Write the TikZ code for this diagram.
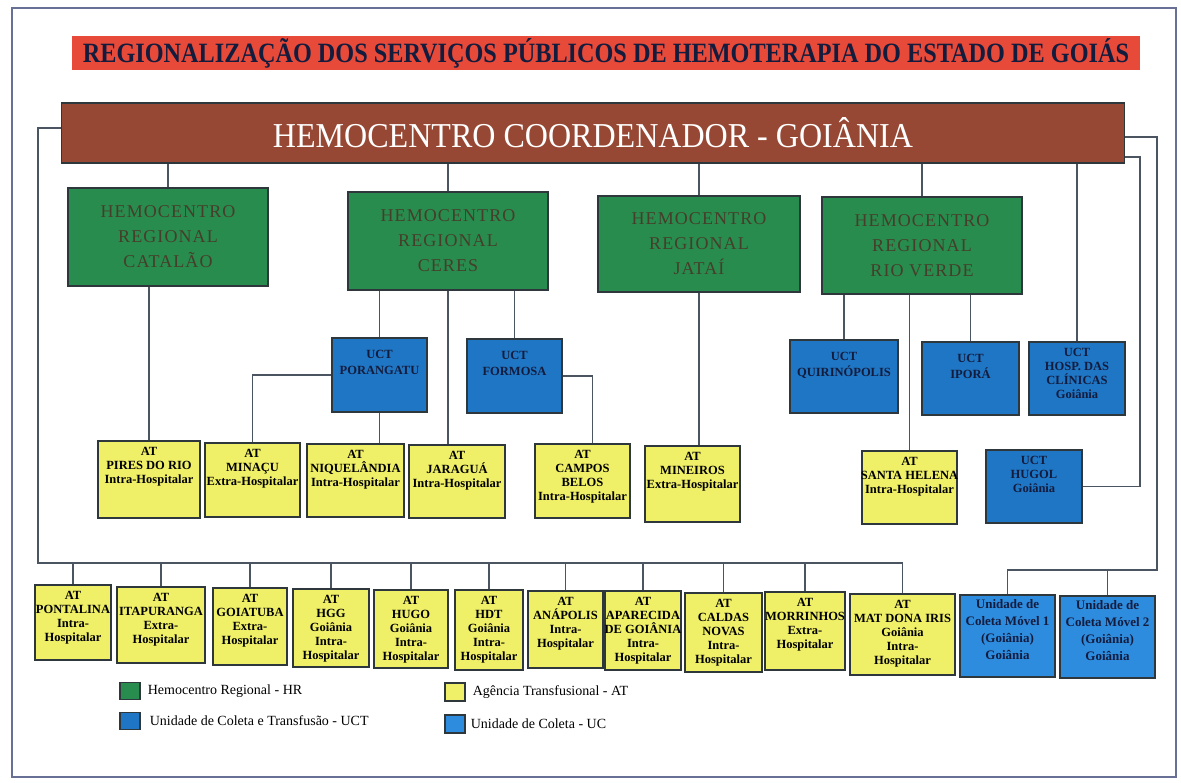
\documentclass[tikz,border=0pt]{standalone}
\usepackage{graphicx}
\usepackage{fontspec}
\setmainfont{Liberation Serif}
\newfontfamily\hrfont{Liberation Serif}[LetterSpace=6]
\usetikzlibrary{positioning}

\definecolor{titlered}{RGB}{232,74,58}
\definecolor{coordbrown}{RGB}{150,72,52}
\definecolor{hrgreen}{RGB}{40,140,78}
\definecolor{hrtext}{RGB}{70,62,42}
\definecolor{uctblue}{RGB}{30,118,196}
\definecolor{ucblue}{RGB}{46,140,222}
\definecolor{atyellow}{RGB}{240,240,104}
\definecolor{boxline}{RGB}{45,55,60}
\definecolor{linecol}{RGB}{75,85,98}
\definecolor{framecol}{RGB}{105,112,150}
\definecolor{navytext}{RGB}{20,28,62}

\tikzset{
  cell/.style={draw=boxline, line width=1.3pt, inner sep=0pt},
  boxsize/.style 2 args={minimum width=#1pt, minimum height=#2pt},
  hrbox/.style={cell, fill=hrgreen, align=center, text=hrtext,
    font={\hrfont\fontsize{18}{25}\selectfont}},
  attext/.style={anchor=north, yshift=-7pt, align=center, inner sep=0pt,
    font={\bfseries\fontsize{12.5}{14}\selectfont}},
  atbox/.style={cell, fill=atyellow, label={[attext]north:{#1}}},
  ucttext/.style={anchor=north, yshift=-13pt, align=center, inner sep=0pt,
    text=navytext, font={\bfseries\fontsize{12.5}{16}\selectfont}},
  uctbox/.style={cell, fill=uctblue, label={[ucttext]north:{#1}}},
  uctboxsm/.style={cell, fill=uctblue, label={[ucttext, yshift=6pt,
    font={\bfseries\fontsize{12.5}{14}\selectfont}]north:{#1}}},
  uctext/.style={anchor=north, yshift=-5pt, align=center, inner sep=0pt,
    text=navytext, font={\bfseries\fontsize{13}{17}\selectfont}},
  ucbox/.style={cell, fill=ucblue, label={[uctext]north:{#1}}},
  legtext/.style={inner sep=0pt, font={\fontsize{14}{16}\selectfont}},
  link/.style={draw=linecol, line width=1.8pt},
}

\begin{document}
\begin{tikzpicture}[x=1pt, y=-1pt]
    \useasboundingbox (0,0) rectangle (1181,782);

    % --- Frame ---
    \draw[framecol, line width=1.2pt] (12,8) rectangle (1176,777);

    % --- Title and coordinating centre ---
    \node[fill=titlered, boxsize={1068}{34}, inner sep=0pt, text=navytext] (title) at (606,53)
        {\resizebox{1046pt}{24pt}{\bfseries REGIONALIZAÇÃO DOS SERVIÇOS PÚBLICOS DE HEMOTERAPIA DO ESTADO DE GOIÁS}};
    \node[cell, fill=coordbrown, boxsize={1063}{60}, text=white] (coord) at (593,133)
        {\resizebox{640pt}{30pt}{HEMOCENTRO COORDENADOR - GOIÂNIA}};

    % --- Regional centres ---
    \node[hrbox, boxsize={200}{98}] (catalao)  at (168,237)   {HEMOCENTRO\\REGIONAL\\CATALÃO};
    \node[hrbox, boxsize={200}{98}] (ceres)    at (448,241)   {HEMOCENTRO\\REGIONAL\\CERES};
    \node[hrbox, boxsize={202}{96}] (jatai)    at (699,244)   {HEMOCENTRO\\REGIONAL\\JATAÍ};
    \node[hrbox, boxsize={200}{97}] (rioverde) at (922,245.5) {HEMOCENTRO\\REGIONAL\\RIO VERDE};

    % --- Collection and transfusion units ---
    \node[uctbox={UCT\\PORANGATU}, boxsize={95}{74}]    (porangatu) at (379.5,375) {};
    \node[uctbox={UCT\\FORMOSA}, boxsize={95}{74}]      (formosa)   at (514.5,376) {};
    \node[uctbox={UCT\\QUIRINÓPOLIS}, boxsize={108}{73}] (quiri)    at (844,376.5) {};
    \node[uctbox={UCT\\IPORÁ}, boxsize={97}{73}]        (ipora)     at (970.5,378.5) {};
    \node[uctboxsm={UCT\\HOSP. DAS\\CLÍNICAS\\Goiânia}, boxsize={96}{73}] (hosp) at (1077,378.5) {};
    \node[uctboxsm={UCT\\HUGOL\\Goiânia}, boxsize={96}{73}] (hugol) at (1034,486.5) {};

    % --- Transfusion agencies, middle row ---
    \node[atbox={AT\\PIRES DO RIO\\Intra-Hospitalar}, boxsize={102}{77}] (pires)    at (149,479.5) {};
    \node[atbox={AT\\MINAÇU\\Extra-Hospitalar}, boxsize={95}{74}]       (minacu)   at (252.5,480) {};
    \node[atbox={AT\\NIQUELÂNDIA\\Intra-Hospitalar}, boxsize={97}{73}]  (niquel)   at (355.5,480.5) {};
    \node[atbox={AT\\JARAGUÁ\\Intra-Hospitalar}, boxsize={96}{73}]      (jaragua)  at (457,481.5) {};
    \node[atbox={AT\\CAMPOS\\BELOS\\Intra-Hospitalar}, boxsize={95}{74}] (campos)  at (582.5,481) {};
    \node[atbox={AT\\MINEIROS\\Extra-Hospitalar}, boxsize={95}{76}]     (mineiros) at (692.5,484) {};
    \node[atbox={AT\\SANTA HELENA\\Intra-Hospitalar}, boxsize={95}{73}] (shelena)  at (909.5,487.5) {};

    % --- Transfusion agencies, bottom row ---
    \node[atbox={AT\\PONTALINA\\Intra-\\Hospitalar}, boxsize={76}{75}]  (pontalina)  at (73,622.5) {};
    \node[atbox={AT\\ITAPURANGA\\Extra-\\Hospitalar}, boxsize={88}{76}] (itapuranga) at (161,625) {};
    \node[atbox={AT\\GOIATUBA\\Extra-\\Hospitalar}, boxsize={74}{77}]   (goiatuba)   at (250,626.5) {};
    \node[atbox={AT\\HGG\\Goiânia\\Intra-\\Hospitalar}, boxsize={76}{78}]  (hgg)     at (331,628) {};
    \node[atbox={AT\\HUGO\\Goiânia\\Intra-\\Hospitalar}, boxsize={74}{78}] (hugo)    at (411,629) {};
    \node[atbox={AT\\HDT\\Goiânia\\Intra-\\Hospitalar}, boxsize={68}{80}]  (hdt)     at (489,630) {};
    \node[atbox={AT\\ANÁPOLIS\\Intra-\\Hospitalar}, boxsize={75}{77}]   (anapolis)   at (565.5,629.5) {};
    \node[atbox={AT\\APARECIDA\\DE GOIÂNIA\\Intra-\\Hospitalar}, boxsize={76}{79}] (aparecida) at (643,630.5) {};
    \node[atbox={AT\\CALDAS\\NOVAS\\Intra-\\Hospitalar}, boxsize={77}{79}] (caldas)  at (723.5,632.5) {};
    \node[atbox={AT\\MORRINHOS\\Extra-\\Hospitalar}, boxsize={80}{78}]  (morrinhos)  at (805,631) {};
    \node[atbox={AT\\MAT DONA IRIS\\Goiânia\\Intra-\\Hospitalar}, boxsize={105}{81}] (matdona) at (902.5,634.5) {};

    % --- Collection units ---
    \node[ucbox={Unidade de\\Coleta Móvel 1\\(Goiânia)\\Goiânia}, boxsize={95}{82}] (movelA) at (1007.5,636) {};
    \node[ucbox={Unidade de\\Coleta Móvel 2\\(Goiânia)\\Goiânia}, boxsize={95}{82}] (movelB) at (1107.5,637) {};

    % --- Connectors ---
    \coordinate (busL) at (38,563);
    \coordinate (busA) at (1157,570);
    \coordinate (busB) at (1140,0);

    \foreach \n in {catalao, ceres, jatai, rioverde, hosp}
        \draw[link] (coord.south -| \n.north) -- (\n.north);

    \draw[link] (catalao.south -| pires.north) -- (pires.north);
    \foreach \n in {porangatu, formosa}
        \draw[link] (ceres.south -| \n.north) -- (\n.north);
    \draw[link] (ceres.south) -- (ceres.south |- jaragua.north);
    \draw[link] (porangatu.west) -| (minacu.north);
    \draw[link] (porangatu.south) -- (porangatu.south |- niquel.north);
    \draw[link] (formosa.east) -| ([xshift=10pt]campos.north);
    \draw[link] (jatai.south) -- (jatai.south |- mineiros.north);
    \foreach \n in {quiri, ipora, shelena}
        \draw[link] (rioverde.south -| \n.north) -- (\n.north);

    % right side
    \draw[link] ([yshift=-24pt]coord.east) -| (busB |- hugol.east) -- (hugol.east);
    \draw[link] ([yshift=-4pt]coord.east) -| (busA) -| (movelA.north);
    \draw[link] (busA -| movelB.north) -- (movelB.north);

    % left side
    \draw[link] ([yshift=5pt]coord.west) -| (busL) -| (matdona.north);
    \foreach \n in {pontalina, itapuranga, goiatuba, hgg, hugo, hdt, anapolis, aparecida, caldas, morrinhos}
        \draw[link] (busL -| \n.north) -- (\n.north);

    % --- Legend ---
    \node[cell, fill=hrgreen, boxsize={20}{17}] (keyhr)  at (130,691) {};
    \node[cell, fill=uctblue, boxsize={20}{17}] (keyuct) at (130,721) {};
    \node[cell, fill=atyellow, boxsize={20}{18}] (keyat) at (455,692) {};
    \node[cell, fill=ucblue, boxsize={20}{18}] (keyuc)   at (455,724) {};
    \node[legtext, right=7pt of keyhr]  (txthr)  {Hemocentro Regional - HR};
    \node[legtext, right=9pt of keyuct] (txtuct) {Unidade de Coleta e Transfusão - UCT};
    \node[legtext, right=7pt of keyat]  (txtat)  {Agência Transfusional - AT};
    \node[legtext, right=5pt of keyuc]  (txtuc)  {Unidade de Coleta - UC};

\end{tikzpicture}
\end{document}
